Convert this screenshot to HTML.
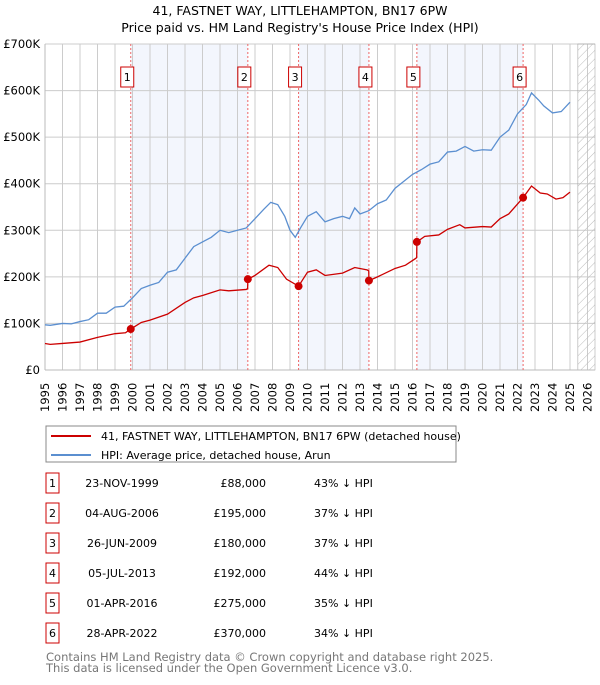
<!DOCTYPE html>
<html><head><meta charset="utf-8"><style>
body{margin:0;background:#fff;font-family:"Liberation Sans","DejaVu Sans",sans-serif;}
svg text{font-family:"DejaVu Sans","Liberation Sans",sans-serif;}
</style></head><body>
<svg id="c" width="600" height="680" xmlns="http://www.w3.org/2000/svg">
<defs><pattern id="hatch" width="6" height="6" patternUnits="userSpaceOnUse" patternTransform="rotate(45)"><line x1="0" y1="0" x2="0" y2="6" stroke="#bbb" stroke-width="1"/></pattern></defs>
<text x="300" y="15" text-anchor="middle" font-size="12.5" fill="#000">41, FASTNET WAY, LITTLEHAMPTON, BN17 6PW</text>
<text x="300" y="32" text-anchor="middle" font-size="12.5" fill="#000">Price paid vs. HM Land Registry's House Price Index (HPI)</text>
<g id="plot"></g>
<g>
<rect x="46" y="426" width="410" height="36" fill="#fff" stroke="#888"/>
<line x1="51" y1="436" x2="91" y2="436" stroke="#cc0000" stroke-width="2"/>
<text x="101" y="440" font-size="11">41, FASTNET WAY, LITTLEHAMPTON, BN17 6PW (detached house)</text>
<line x1="51" y1="455" x2="91" y2="455" stroke="#5b8fd0" stroke-width="2"/>
<text x="101" y="459" font-size="11">HPI: Average price, detached house, Arun</text>
</g>
<g id="table"></g>
<text x="46" y="661" font-size="11.5" fill="#777">Contains HM Land Registry data © Crown copyright and database right 2025.</text>
<text x="46" y="672" font-size="11.5" fill="#777">This data is licensed under the Open Government Licence v3.0.</text>
</svg>
<script>
const yTicks=[0,100,200,300,400,500,600,700];
const yTickLabels=["£0","£100K","£200K","£300K","£400K","£500K","£600K","£700K"];
const xYears=[1995,1996,1997,1998,1999,2000,2001,2002,2003,2004,2005,2006,2007,2008,2009,2010,2011,2012,2013,2014,2015,2016,2017,2018,2019,2020,2021,2022,2023,2024,2025,2026];
const hpiT=[1995,1995.3,1996,1996.5,1997,1997.5,1998,1998.5,1999,1999.5,2000,2000.5,2001,2001.5,2002,2002.5,2003,2003.5,2004,2004.5,2005,2005.5,2006,2006.5,2007,2007.5,2007.9,2008.3,2008.7,2009,2009.3,2009.6,2010,2010.5,2011,2011.5,2012,2012.4,2012.7,2013,2013.5,2014,2014.5,2015,2015.5,2016,2016.5,2017,2017.5,2018,2018.5,2019,2019.5,2020,2020.5,2021,2021.5,2022,2022.5,2022.8,2023.2,2023.5,2024,2024.5,2025];
const hpiV=[97,96,100,99,104,108,122,122,135,137,155,175,182,188,210,215,240,265,275,285,300,295,300,305,325,345,360,355,330,300,285,305,330,340,318,325,330,325,348,335,342,357,365,390,405,420,430,442,447,468,470,480,470,473,472,500,515,550,570,595,580,567,552,555,575];
const ppT=[1995,1995.3,1996,1997,1998,1999,1999.6,1999.9,2000.5,2001,2002,2003,2003.5,2004,2005,2005.5,2006.5,2006.58,2006.59,2007,2007.8,2008.3,2008.8,2009.49,2010,2010.5,2011,2012,2012.7,2013.4,2013.5,2013.51,2014,2015,2015.6,2016.2,2016.24,2016.25,2016.7,2017.5,2018,2018.7,2019,2020,2020.5,2021,2021.5,2022.32,2022.8,2023.3,2023.7,2024.2,2024.6,2025];
const ppV=[57,55,57,60,70,78,80,88,102,107,120,145,155,160,172,170,173,175,195,203,225,220,195,180,210,215,203,208,220,215,213,192,200,218,225,240,242,275,287,290,302,312,305,308,307,325,335,370,395,380,378,367,370,382];
const saleT=[1999.9,2006.59,2009.49,2013.51,2016.25,2022.32];
const saleV=[88,195,180,192,275,370];
const saleDates=["23-NOV-1999","04-AUG-2006","26-JUN-2009","05-JUL-2013","01-APR-2016","28-APR-2022"];
const salePrices=["£88,000","£195,000","£180,000","£192,000","£275,000","£370,000"];
const salePct=["43% ↓ HPI","37% ↓ HPI","37% ↓ HPI","44% ↓ HPI","35% ↓ HPI","34% ↓ HPI"];
const X0=45,X1=587.5,Y0=370,Y1=44,T0=1995,T1=2026,VMAX=700;
const xs=t=>X0+(t-T0)/(T1-T0)*(X1-X0);
const ys=v=>Y0-v/VMAX*(Y0-Y1);
const NS="http://www.w3.org/2000/svg";
function mk(p,tag,a){const e=document.createElementNS(NS,tag);for(const k in a)e.setAttribute(k,a[k]);p.appendChild(e);return e;}
const g=document.getElementById('plot');
for(let i=0;i<saleT.length;i+=2){const r=mk(g,'rect',{x:xs(saleT[i]),y:Y1,width:xs(saleT[i+1])-xs(saleT[i]),height:Y0-Y1,fill:'#f3f6fd'});

}
xYears.forEach(yr=>{const l=mk(g,'line',{x1:xs(yr),x2:xs(yr),y1:Y1,y2:Y0,stroke:'#cccccc','stroke-width':1});


const tx=mk(g,'text',{transform:`translate(${xs(yr)+4},${Y0+42}) rotate(-90)`,'font-size':11.5,fill:'#000'});tx.textContent=yr;

});
yTicks.forEach((v,i)=>{const l=mk(g,'line',{x1:X0,x2:595,y1:ys(v),y2:ys(v),stroke:'#cccccc','stroke-width':1});


const tx=mk(g,'text',{x:X0-5,y:ys(v)+4,'text-anchor':'end','font-size':11.5});tx.textContent=yTickLabels[i];

});
const hx=xs(2025.45);
const h=mk(g,'rect',{x:hx,y:Y1,width:595-hx,height:Y0-Y1,fill:'url(#hatch)',stroke:'#999','stroke-width':0.5});


mk(g,'line',{x1:X0,x2:X0,y1:Y1,y2:Y0,stroke:'#bbb'});
mk(g,'line',{x1:X0,x2:595,y1:Y0,y2:Y0,stroke:'#bbb'});
saleT.forEach((t,i)=>{const l=mk(g,'line',{x1:xs(t),x2:xs(t),y1:Y1,y2:Y0,stroke:'#e66','stroke-width':1,'stroke-dasharray':'2,2'});


const b=mk(g,'rect',{x:xs(t)-10,y:67,width:13,height:20,fill:'#fff',stroke:'#cc0000'});


const tx=mk(g,'text',{x:xs(t)-3.5,y:81,'text-anchor':'middle','font-size':11});tx.textContent=i+1;

});
const hp=mk(g,'polyline',{points:hpiT.map((t,i)=>xs(t)+','+ys(hpiV[i])).join(' '),fill:'none',stroke:'#5b8fd0','stroke-width':1.3});


const pp=mk(g,'polyline',{points:ppT.map((t,i)=>xs(t)+','+ys(ppV[i])).join(' '),fill:'none',stroke:'#cc0000','stroke-width':1.3});


saleT.forEach((t,i)=>{const c=mk(g,'circle',{cx:xs(t),cy:ys(saleV[i]),r:4,fill:'#cc0000'});

});
const tb=document.getElementById('table');
saleT.forEach((t,i)=>{const y=483+i*30;
const b=mk(tb,'rect',{x:46,y:y-10,width:13,height:20,fill:'#fff',stroke:'#cc0000'});


const n=mk(tb,'text',{x:52.5,y:y+4,'text-anchor':'middle','font-size':11});n.textContent=i+1;


const d=mk(tb,'text',{x:122,y:y+4,'text-anchor':'middle','font-size':11});d.textContent=saleDates[i];


const p=mk(tb,'text',{x:266,y:y+4,'text-anchor':'end','font-size':11});p.textContent=salePrices[i];


const q=mk(tb,'text',{x:314,y:y+4,'font-size':11});q.textContent=salePct[i];

});
</script>
</body></html>
